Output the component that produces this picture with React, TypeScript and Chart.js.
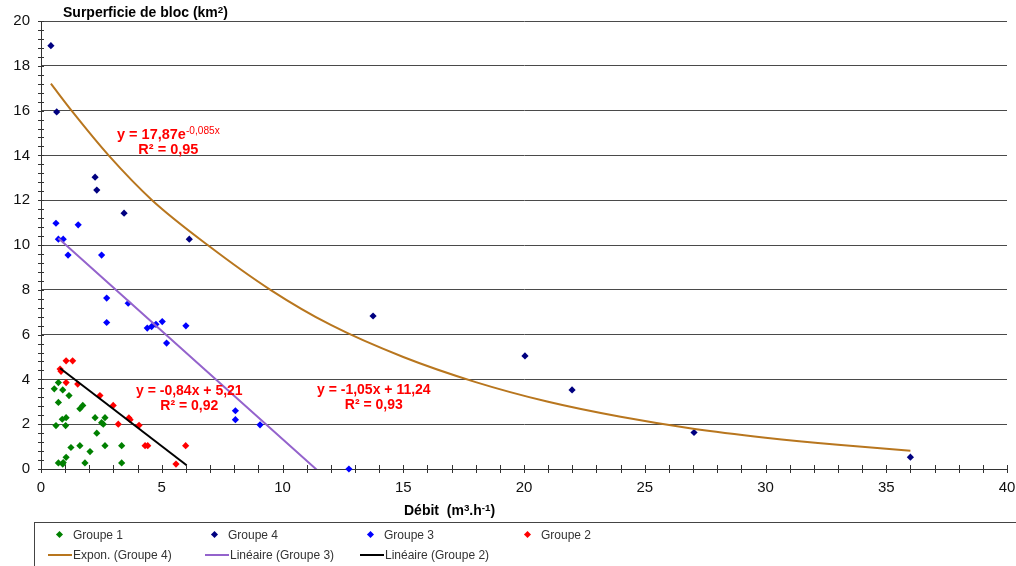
import React, { useEffect, useRef } from "react";
import { Chart, registerables } from "chart.js";

Chart.register(...registerables);

// ---------- data ----------
const group1X = [0.72, 0.55, 0.9, 1.16, 0.72, 1.73, 1.61, 0.88, 1.04, 2.24, 2.65, 2.51, 2.58, 0.62, 1.02, 2.31, 1.24, 1.61, 2.03, 2.65, 3.34, 1.04, 0.72, 0.9, 0.92, 1.82, 3.34];
const group1Y = [3.86, 3.58, 3.53, 3.28, 2.97, 2.84, 2.69, 2.22, 2.29, 2.29, 2.29, 2.07, 2.0, 1.94, 1.94, 1.6, 0.96, 1.04, 0.78, 1.04, 1.04, 0.52, 0.27, 0.22, 0.29, 0.27, 0.27];

const group4X = [0.41, 0.65, 2.24, 2.31, 3.44, 6.14, 13.75, 20.04, 21.99, 27.04, 36.0];
const group4Y = [18.9, 15.94, 13.03, 12.45, 11.42, 10.26, 6.83, 5.05, 3.53, 1.63, 0.53];

const group3X = [0.62, 0.72, 0.92, 1.54, 1.12, 2.51, 2.72, 3.61, 2.72, 4.4, 4.58, 4.76, 5.02, 6.0, 5.2, 8.05, 8.05, 9.07, 12.75];
const group3Y = [10.97, 10.26, 10.26, 10.9, 9.55, 9.55, 7.63, 7.4, 6.54, 6.29, 6.36, 6.46, 6.58, 6.39, 5.62, 2.6, 2.2, 1.97, 0.0];

const group2X = [1.04, 1.31, 0.79, 0.83, 1.04, 1.52, 2.44, 2.99, 3.64, 3.69, 3.2, 4.06, 4.31, 4.42, 5.99, 5.59];
const group2Y = [4.83, 4.83, 4.46, 4.36, 3.86, 3.79, 3.28, 2.84, 2.28, 2.2, 2.0, 1.95, 1.04, 1.04, 1.04, 0.22];

// trend lines
const expG4X = [0.41, 1.3, 2.8, 4.6, 6.9, 9.5, 12, 15, 18, 21, 24, 27, 30, 33, 36];
const expG4Y = [17.2, 15.95, 14.0, 12.0, 10.0, 8.0, 6.43, 5.0, 3.88, 3.0, 2.33, 1.8, 1.4, 1.08, 0.82];
const linG3X = [0.72, 12.75];
const linG3Y = [10.3, -1.32];
const linG2X = [0.79, 6.03];
const linG2Y = [4.5, 0.17];

const seriesNames = ["Groupe 1", "Groupe 4", "Groupe 3", "Groupe 2"];
const trendNames = ["Expon. (Groupe 4)", "Linéaire (Groupe 3)", "Linéaire (Groupe 2)"];
const seriesColors = ["#008000", "#000080", "#0000FF", "#FF0000"];
const trendColors = ["#B8761E", "#9463CC", "#000000"];

const xTickStep = 5;
const yTickStep = 2;

const FONT = '"Liberation Sans", Arial, sans-serif';

const toPts = (xs: number[], ys: number[]) => xs.map((x, i) => ({ x, y: ys[i] }));

type Part = { t: string; sup?: boolean; bold?: boolean };

function richWidth(ctx: CanvasRenderingContext2D, parts: Part[], size: number) {
  let w = 0;
  for (const p of parts) {
    const s = p.sup ? size * 0.7 : size;
    ctx.font = `${p.bold === false ? "" : "bold "}${s}px ${FONT}`;
    w += ctx.measureText(p.t).width;
  }
  return w;
}

function drawRich(ctx: CanvasRenderingContext2D, parts: Part[], x: number, y: number, size: number) {
  let cx = x;
  for (const p of parts) {
    const s = p.sup ? size * 0.7 : size;
    ctx.font = `${p.bold === false ? "" : "bold "}${s}px ${FONT}`;
    ctx.fillText(p.t, cx, p.sup ? y - size * 0.32 : y);
    cx += ctx.measureText(p.t).width;
  }
}

const overlayPlugin = {
  id: "overlay",
  afterDraw(chart: any) {
    const ctx: CanvasRenderingContext2D = chart.ctx;
    const xs = chart.scales.x;
    const ys = chart.scales.y;
    const area = chart.chartArea;
    ctx.save();
    // crossing tick marks
    ctx.strokeStyle = "#333";
    ctx.lineWidth = 1;
    ctx.beginPath();
    for (let i = 0; i <= 40; i++) {
      const px = Math.round(xs.getPixelForValue(i)) + 0.5;
      ctx.moveTo(px, area.bottom - 4);
      ctx.lineTo(px, area.bottom + 4);
    }
    for (let i = 0; i <= 50; i++) {
      const py = Math.round(ys.getPixelForValue(i * 0.4)) + 0.5;
      ctx.moveTo(area.left - 3, py);
      ctx.lineTo(area.left + 3, py);
    }
    ctx.stroke();

    // axis titles
    ctx.fillStyle = "#000";
    ctx.textBaseline = "alphabetic";
    ctx.textAlign = "left";
    drawRich(ctx, [{ t: "Surperficie de bloc (km" }, { t: "2", sup: true }, { t: ")" }], 63, 17, 14);
    drawRich(ctx, [{ t: "Débit  (m" }, { t: "3", sup: true }, { t: ".h" }, { t: "-1", sup: true }, { t: ")" }], 404, 515, 14);

    // trend equations
    ctx.fillStyle = "#FF0000";
    const eqs: { l1: Part[]; l2: Part[]; x: number; y: number; size: number }[] = [
      { l1: [{ t: "y = 17,87e" }, { t: "-0,085x", sup: true, bold: false }], l2: [{ t: "R² = 0,95" }], x: 117, y: 139, size: 14.5 },
      { l1: [{ t: "y = -0,84x + 5,21" }], l2: [{ t: "R² = 0,92" }], x: 136, y: 395, size: 14 },
      { l1: [{ t: "y = -1,05x + 11,24" }], l2: [{ t: "R² = 0,93" }], x: 317, y: 394, size: 14 },
    ];
    for (const e of eqs) {
      const w1 = richWidth(ctx, e.l1, e.size);
      const w2 = richWidth(ctx, e.l2, e.size);
      drawRich(ctx, e.l1, e.x, e.y, e.size);
      drawRich(ctx, e.l2, e.x + (w1 - w2) / 2, e.y + 15, e.size);
    }
    ctx.restore();
  },
};

function Diamond({ color }: { color: string }) {
  return (
    <span
      style={{
        position: "absolute",
        width: 5,
        height: 5,
        background: color,
        transform: "rotate(45deg)",
        left: -3,
        top: -3,
      }}
    />
  );
}

export default function App() {
  const ref = useRef<HTMLCanvasElement | null>(null);

  useEffect(() => {
    if (!ref.current) return;
    const scatter = (label: string, xs: number[], ys: number[], color: string) => ({
      type: "scatter" as const,
      label,
      data: toPts(xs, ys),
      backgroundColor: color,
      borderColor: color,
      pointStyle: "rectRot",
      pointRadius: 3.6,
      pointBorderWidth: 0,
      showLine: false,
      clip: false as any,
      order: 2,
    });
    const trend = (label: string, xs: number[], ys: number[], color: string) => ({
      type: "line" as const,
      label,
      data: toPts(xs, ys),
      borderColor: color,
      backgroundColor: color,
      borderWidth: 2,
      pointRadius: 0,
      fill: false,
      cubicInterpolationMode: "monotone" as const,
      order: 1,
    });
    const chart = new Chart(ref.current, {
      type: "scatter",
      data: {
        datasets: [
          scatter(seriesNames[0], group1X, group1Y, seriesColors[0]),
          scatter(seriesNames[1], group4X, group4Y, seriesColors[1]),
          scatter(seriesNames[2], group3X, group3Y, seriesColors[2]),
          scatter(seriesNames[3], group2X, group2Y, seriesColors[3]),
          trend(trendNames[0], expG4X, expG4Y, trendColors[0]),
          trend(trendNames[1], linG3X, linG3Y, trendColors[1]),
          trend(trendNames[2], linG2X, linG2Y, trendColors[2]),
        ] as any,
      },
      options: {
        responsive: false,
        animation: false,
        devicePixelRatio: 1,
        layout: { padding: { top: 21, right: 9, left: 0, bottom: 0 } },
        plugins: { legend: { display: false }, tooltip: { enabled: false } },
        scales: {
          x: {
            type: "linear",
            min: 0,
            max: 40,
            ticks: { stepSize: xTickStep, padding: 10, font: { family: FONT, size: 15 }, color: "#111" },
            grid: { display: false, drawTicks: false },
            border: { display: true, color: "#333", width: 1 },
            afterFit: (s: any) => {
              s.height = 97;
              s.paddingLeft = 0;
              s.paddingRight = 0;
            },
          },
          y: {
            type: "linear",
            min: 0,
            max: 20,
            ticks: { stepSize: yTickStep, padding: 11, font: { family: FONT, size: 15 }, color: "#111" },
            grid: { color: "#4a4a4a", lineWidth: 1, drawTicks: false },
            border: { display: true, color: "#333", width: 1 },
            afterFit: (s: any) => {
              s.width = 41;
              s.paddingTop = 0;
              s.paddingBottom = 0;
            },
          },
        },
      } as any,
      plugins: [overlayPlugin],
    });
    return () => chart.destroy();
  }, []);

  const row1X = [60, 215, 371, 528];
  const row2X = [48, 205, 360];

  return (
    <div style={{ position: "absolute", left: 0, top: 0, width: 1016, height: 566, overflow: "hidden", background: "#fff" }}>
      <canvas ref={ref} width={1016} height={566} style={{ position: "absolute", left: 0, top: 0, width: 1016, height: 566 }} />
      <div
        style={{
          position: "absolute",
          left: 34,
          top: 522,
          width: 1000,
          height: 60,
          border: "1px solid #444",
          boxSizing: "border-box",
        }}
      />
      {seriesNames.map((n, i) => (
        <div key={n} style={{ position: "absolute", left: row1X[i], top: 535 }}>
          <Diamond color={seriesColors[i]} />
          <span
            style={{
              position: "absolute",
              left: 13,
              top: -8,
              whiteSpace: "nowrap",
              font: `12px ${FONT}`,
              color: "#333",
              lineHeight: "16px",
            }}
          >
            {n}
          </span>
        </div>
      ))}
      {trendNames.map((n, i) => (
        <div key={n} style={{ position: "absolute", left: row2X[i], top: 555 }}>
          <span style={{ position: "absolute", left: 0, top: -1, width: 24, height: 2, background: trendColors[i] }} />
          <span
            style={{
              position: "absolute",
              left: 25,
              top: -8,
              whiteSpace: "nowrap",
              font: `12px ${FONT}`,
              color: "#333",
              lineHeight: "16px",
            }}
          >
            {n}
          </span>
        </div>
      ))}
    </div>
  );
}
